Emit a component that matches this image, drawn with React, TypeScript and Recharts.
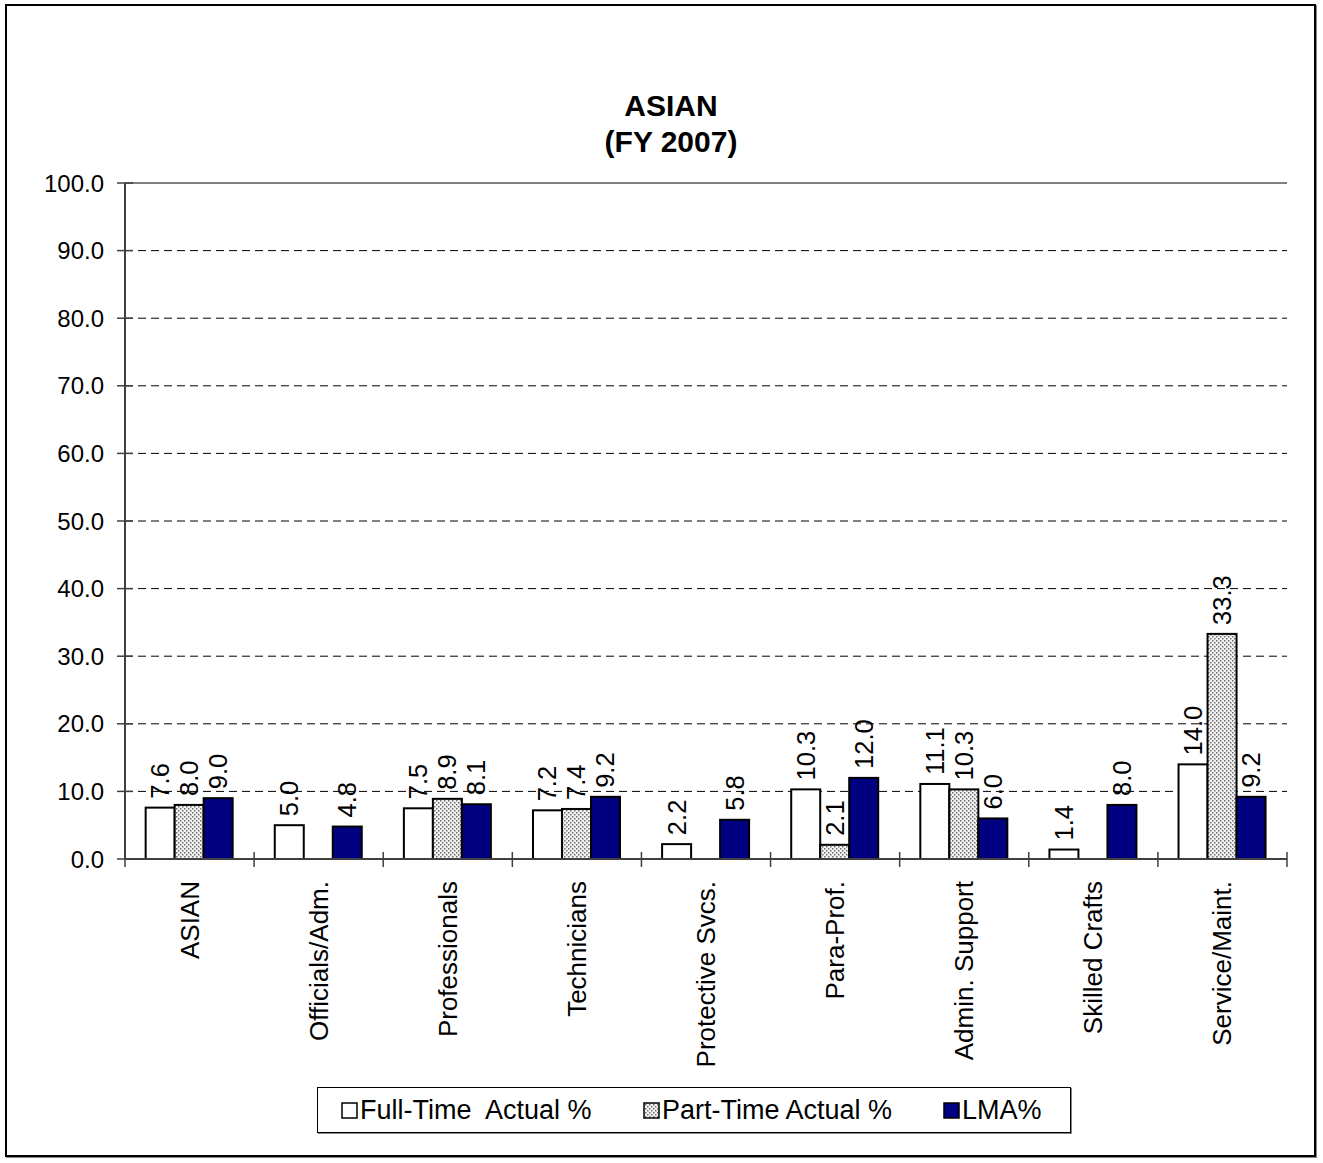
import React from 'react'
import {
  BarChart, Bar, XAxis, YAxis, CartesianGrid, ReferenceLine, LabelList
} from 'recharts'

// data
const categories = [
  'ASIAN', 'Officials/Adm.', 'Professionals', 'Technicians', 'Protective Svcs.',
  'Para-Prof.', 'Admin. Support', 'Skilled Crafts', 'Service/Maint.'
]
const fullTime = [7.6, 5.0, 7.5, 7.2, 2.2, 10.3, 11.1, 1.4, 14.0]
const partTime = [8.0, null, 8.9, 7.4, null, 2.1, 10.3, null, 33.3]
const lma = [9.0, 4.8, 8.1, 9.2, 5.8, 12.0, 6.0, 8.0, 9.2]
const yTicks = [0, 10, 20, 30, 40, 50, 60, 70, 80, 90, 100]
const seriesNames = ['Full-Time  Actual %', 'Part-Time Actual %', 'LMA%']

const data = categories.map((name, i) => ({
  name,
  ft: fullTime[i],
  pt: partTime[i],
  lma: lma[i]
}))

const FONT = '"Liberation Sans", Arial, sans-serif'
const W = 1323
const H = 1163
const PLOT_LEFT = 125
const PLOT_RIGHT = 1287
const BAND = (PLOT_RIGHT - PLOT_LEFT) / categories.length

const YTick = ({ y, payload }: any) => (
  <g>
    <line x1={PLOT_LEFT - 8} x2={PLOT_LEFT + 8} y1={y} y2={y} stroke="#404040" strokeWidth={1.5} />
    <text x={104} y={y} textAnchor="end" dominantBaseline="central"
      fontFamily={FONT} fontSize={24} fill="#000">
      {Number(payload.value).toFixed(1)}
    </text>
  </g>
)

const XTick = ({ x, payload, index }: any) => {
  const axisY = 859
  return (
    <g>
      {index === 0 && (
        <line x1={x - BAND / 2} x2={x - BAND / 2} y1={axisY - 7} y2={axisY + 8} stroke="#404040" strokeWidth={1.5} />
      )}
      <line x1={x + BAND / 2} x2={x + BAND / 2} y1={axisY - 7} y2={axisY + 8} stroke="#404040" strokeWidth={1.5} />
      <text x={x} y={axisY + 22} transform={`rotate(-90, ${x}, ${axisY + 22})`}
        textAnchor="end" dominantBaseline="central" fontFamily={FONT} fontSize={26} fill="#000">
        {payload.value}
      </text>
    </g>
  )
}

const ValueLabel = ({ x, y, width, value }: any) => {
  if (value == null) return null
  const cx = x + width / 2
  const ty = y - 9
  return (
    <text x={cx} y={ty} transform={`rotate(-90, ${cx}, ${ty})`}
      textAnchor="start" dominantBaseline="central" fontFamily={FONT} fontSize={25.5} fill="#000">
      {Number(value).toFixed(1)}
    </text>
  )
}

const BarShape = (p: any) => {
  if (p.value == null || !p.height || p.height <= 0) return <g />
  return (
    <rect x={p.x} y={p.y} width={p.width} height={p.height}
      fill={p.fill} stroke="#000" strokeWidth={2} />
  )
}

const legendSwatches = ['#fff', 'url(#dots)', '#000080']

export default function App() {
  return (
    <div style={{ position: 'absolute', left: 0, top: 0, width: W, height: H, background: '#fff', fontFamily: FONT }}>
      <div style={{
        position: 'absolute', left: 5, top: 4, width: 1307, height: 1149,
        border: '2px solid #000', boxShadow: '1px 1px 0 #888'
      }} />
      <div style={{ position: 'absolute', left: 471, top: 88, width: 400, textAlign: 'center', fontWeight: 'bold', fontSize: 30, lineHeight: '36px' }}>
        <div>ASIAN</div>
        <div>(FY 2007)</div>
      </div>
      <div style={{ position: 'absolute', left: 0, top: 0 }}>
        <BarChart width={W} height={H} data={data}
          margin={{ top: 183, right: 36, bottom: 104, left: 65 }}
          barCategoryGap="16%" barGap={0}>
          <defs>
            <pattern id="dots" width="4" height="4" patternUnits="userSpaceOnUse">
              <rect width="4" height="4" fill="#f2f2f2" />
              <rect x="0" y="0" width="1.5" height="1.5" fill="#707070" />
              <rect x="2" y="2" width="1.5" height="1.5" fill="#707070" />
            </pattern>
          </defs>
          <CartesianGrid vertical={false} stroke="#000" strokeDasharray="8 5" strokeWidth={1} />
          <XAxis dataKey="name" height={200} interval={0} tickLine={false}
            axisLine={{ stroke: '#404040', strokeWidth: 2 }} tick={<XTick />} />
          <YAxis domain={[0, 100]} ticks={yTicks} width={60} tickLine={false} interval={0}
            axisLine={{ stroke: '#404040', strokeWidth: 2 }} tick={<YTick />} />
          <YAxis yAxisId="r" orientation="right" width={0} domain={[0, 100]} tick={false}
            tickLine={false} axisLine={{ stroke: '#808080', strokeWidth: 2 }} />
          <ReferenceLine y={100} stroke="#808080" strokeWidth={2} />
          <Bar dataKey="ft" name={seriesNames[0]} fill="#ffffff" shape={<BarShape />} isAnimationActive={false}>
            <LabelList dataKey="ft" content={<ValueLabel />} />
          </Bar>
          <Bar dataKey="pt" name={seriesNames[1]} fill="url(#dots)" shape={<BarShape />} isAnimationActive={false}>
            <LabelList dataKey="pt" content={<ValueLabel />} />
          </Bar>
          <Bar dataKey="lma" name={seriesNames[2]} fill="#000080" shape={<BarShape />} isAnimationActive={false}>
            <LabelList dataKey="lma" content={<ValueLabel />} />
          </Bar>
        </BarChart>
      </div>
      <div style={{
        position: 'absolute', left: 317, top: 1087, width: 752, height: 44,
        border: '1px solid #000', boxShadow: '1px 1px 0 #888'
      }} />
      {seriesNames.map((n, i) => {
        const left = [341, 643, 943][i]
        return (
          <div key={n} style={{ position: 'absolute', left, top: 1092, height: 36, display: 'flex', alignItems: 'center' }}>
            <svg width={17} height={17} style={{ marginRight: 2 }}>
              <rect x={1} y={1} width={15} height={15} fill={legendSwatches[i]} stroke="#000" strokeWidth={1.5} />
            </svg>
            <span style={{ fontSize: 27, whiteSpace: 'pre' }}>{n}</span>
          </div>
        )
      })}
    </div>
  )
}
